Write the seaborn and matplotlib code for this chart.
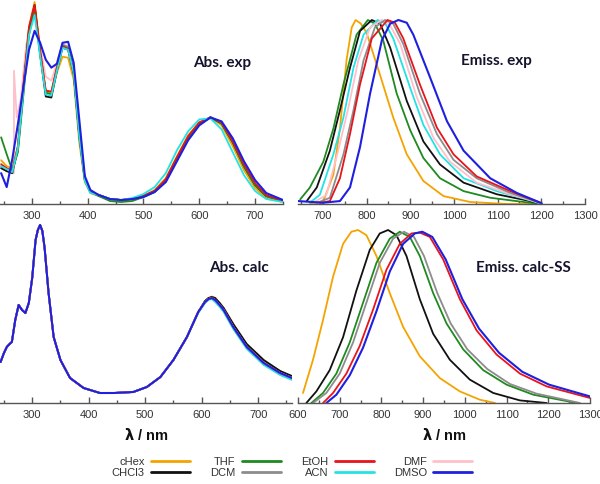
import matplotlib
matplotlib.use("Agg")
import matplotlib.pyplot as plt
from matplotlib.ticker import MultipleLocator
import seaborn as sns

# solvents and colours (legend order, column by column)
solvents = ["cHex", "CHCl3", "THF", "DCM", "EtOH", "ACN", "DMF", "DMSO"]
colors = {
    "cHex": "#f5a300", "CHCl3": "#111111", "THF": "#1f8a1f", "DCM": "#8c8c8c",
    "EtOH": "#e8141c", "ACN": "#22e3e3", "DMF": "#ffc0cc", "DMSO": "#1f1fe0",
}

# ---- Abs. exp (wavelength in nm, absorbance in arbitrary units) ----
abs_exp_nm = [245, 255, 265, 275, 285, 295, 305, 315, 325, 335, 345, 355, 365, 375, 385,
              395, 405, 420, 440, 460, 480, 500, 520, 540, 560, 580, 600, 620, 640, 660,
              680, 700, 720, 750]
abs_exp_chex = [44, 38, 36, 58, 118, 178, 203, 155, 112, 111, 132, 148, 147, 125, 62,
                22, 11, 8, 5, 4, 5, 8, 14, 26, 48, 69, 82, 87, 79, 58, 34, 16, 6, 2]
abs_exp_chcl3 = [36, 33, 31, 55, 115, 175, 200, 150, 108, 107, 134, 157, 155, 131, 68,
                 24, 12, 9, 5, 4, 5, 8, 13, 24, 46, 67, 81, 87, 81, 62, 38, 19, 8, 3]
abs_exp_thf = [67, 50, 34, 52, 110, 170, 196, 150, 112, 110, 136, 159, 156, 132, 70,
               25, 12, 8, 3, 2, 3, 7, 12, 23, 45, 66, 80, 87, 81, 62, 38, 19, 8, 3]
abs_exp_dcm = [38, 35, 33, 57, 117, 175, 198, 152, 113, 112, 138, 160, 158, 134, 70,
               25, 12, 9, 5, 4, 5, 8, 13, 24, 46, 67, 81, 87, 81, 62, 38, 19, 8, 3]
abs_exp_etoh = [40, 36, 33, 58, 120, 178, 200, 154, 114, 113, 137, 158, 156, 133, 70,
                25, 12, 9, 5, 4, 5, 8, 13, 25, 47, 68, 82, 87, 82, 63, 40, 21, 9, 3]
abs_exp_acn = [38, 35, 32, 56, 114, 170, 190, 148, 110, 109, 134, 157, 155, 132, 68,
               23, 11, 9, 5, 4, 6, 10, 17, 31, 54, 73, 85, 86, 75, 52, 29, 13, 5, 2]
abs_exp_dmso = [31, 17, 45, 80, 118, 155, 174, 162, 145, 137, 141, 162, 163, 142, 85,
                28, 14, 9, 5, 4, 5, 7, 12, 22, 43, 64, 79, 87, 83, 66, 43, 24, 11, 4]
# DMF has a narrow spike near 268 nm, so it gets its own wavelength list
abs_exp_dmf_nm = [245, 255, 265, 268, 268, 273, 280, 290, 300, 305, 315, 325, 335, 345,
                  355, 365, 375, 385, 395, 405, 420, 440, 460, 480, 500, 520, 540, 560,
                  580, 600, 620, 640, 660, 680, 700, 720, 750]
abs_exp_dmf = [36, 33, 31, 31, 134, 87, 105, 160, 192, 196, 158, 128, 124, 142,
               161, 158, 134, 70, 25, 12, 9, 5, 4, 5, 8, 13, 24, 46,
               67, 81, 87, 81, 62, 38, 19, 8, 3]

# ---- Emiss. exp (normalised intensity, %) ----
em_exp_chex_nm = [670, 701, 724, 739, 754, 766, 775, 787, 800, 831, 861, 892, 930, 976, 1037, 1121, 1200]
em_exp_chex = [0, 1.5, 16, 41, 78, 96, 100, 98, 93, 70, 47, 27, 12.5, 4.3, 1.1, 0, 0]
em_exp_thf_nm = [648, 670, 701, 724, 747, 777, 803, 819, 838, 869, 900, 930, 968, 1022, 1083, 1159, 1201]
em_exp_thf = [2.5, 8.9, 23, 41, 65, 92, 100, 98, 89, 60, 40, 25, 14, 7, 3.4, 1.1, 0]
em_exp_chcl3_nm = [663, 686, 716, 739, 762, 785, 812, 831, 854, 892, 930, 968, 1022, 1098, 1174, 1201]
em_exp_chcl3 = [1.6, 9, 29, 51, 74, 94, 100, 98, 85, 56, 34, 21.5, 11.6, 5.3, 1.6, 0]
em_exp_acn_nm = [670, 693, 724, 747, 770, 793, 825, 842, 861, 900, 930, 968, 1022, 1098, 1174, 1201]
em_exp_acn = [0.7, 5, 27, 47, 74, 92, 100, 98.5, 90, 63, 43, 27, 14, 7, 2, 0]
em_exp_dmf_nm = [678, 708, 735, 758, 781, 808, 835, 854, 877, 915, 953, 991, 1052, 1129, 1190, 1201]
em_exp_dmf = [0.7, 5, 29, 52, 78, 96, 100, 97, 87, 58, 36, 23, 11.6, 5.3, 1.1, 0]
em_exp_dcm_nm = [686, 716, 747, 770, 793, 819, 842, 861, 884, 922, 961, 999, 1052, 1129, 1197]
em_exp_dcm = [0.5, 3.4, 27, 51, 78, 96, 100, 98, 87, 60, 38, 24, 14, 6, 0.7]
em_exp_etoh_nm = [693, 716, 739, 762, 785, 812, 848, 865, 884, 922, 961, 999, 1052, 1129, 1197]
em_exp_etoh = [0.5, 1.6, 14, 38, 65, 90, 100, 98.5, 90, 65, 41.5, 27, 15, 7, 0.7]
em_exp_dmso_nm = [643, 701, 739, 762, 785, 808, 835, 854, 873, 892, 907, 945, 984, 1022, 1083, 1144, 1201]
em_exp_dmso = [1.6, 0.7, 1.6, 9, 31, 60, 89, 98, 100, 98.5, 92, 69, 45, 29, 14, 6, 0.4]

# ---- Abs. calc (UV part is the same for every solvent) ----
abs_calc_uv_nm = [244, 250, 255, 260, 264, 270, 276, 282, 288, 294, 300, 306, 310, 314,
                  318, 322, 329, 338, 350, 367, 391, 420, 444, 479, 503, 527]
abs_calc_uv = [41, 50, 56, 59, 61, 83, 98, 93, 90, 100, 125, 163, 173, 178,
               172, 155, 110, 66, 43, 25, 15, 10, 10, 11, 16, 26]
abs_calc_vis_nm = [550, 574, 594, 606, 612, 618, 624, 632, 639, 656, 680, 710, 739, 760]
abs_calc_vis_chex = [43, 66, 91, 102, 105, 106.5, 105, 100, 95, 79, 58, 42, 32, 26]
abs_calc_vis_chcl3 = [43, 66, 91, 102, 105, 106, 105, 100, 95, 79, 59, 43, 32, 27]
abs_calc_vis_acn = [43, 66, 90, 100, 103, 104, 101, 96, 91, 74, 54, 38, 28, 23]
abs_calc_vis_mid = [43, 66, 91, 101, 104, 105, 103, 98, 93, 76, 56, 40, 30, 25]

# ---- Emiss. calc-SS (normalised intensity, %) ----
em_calc_chex_nm = [612, 636, 660, 684, 708, 728, 744, 764, 788, 820, 852, 892, 940, 988, 1036, 1072]
em_calc_chex = [5.8, 25, 48, 73, 92, 99, 100, 97, 85, 63.5, 44, 27, 14.4, 6.7, 1.9, 0]
em_calc_chcl3_nm = [620, 644, 676, 708, 740, 772, 796, 816, 836, 860, 892, 924, 964, 1012, 1068, 1132, 1196]
em_calc_chcl3 = [0, 6.7, 19, 38, 65, 88.5, 98, 100, 97, 85, 60, 40, 25, 13.5, 5.8, 1.5, 0]
em_calc_thf_nm = [632, 660, 692, 724, 756, 788, 820, 844, 868, 892, 924, 956, 996, 1044, 1100, 1164, 1268]
em_calc_thf = [0, 5.8, 17, 35, 58, 81, 95, 99, 96, 85, 63.5, 46, 31, 19, 10.6, 4.8, 0]
em_calc_dcm_nm = [636, 668, 700, 732, 764, 796, 828, 854, 878, 902, 934, 966, 1006, 1054, 1108, 1172, 1276]
em_calc_dcm = [0, 5.8, 17, 35, 58, 81, 95, 99, 96, 85, 63.5, 46, 31, 19.6, 11, 5.4, 0]
em_calc_etoh_nm = [660, 684, 716, 748, 780, 812, 844, 872, 892, 916, 948, 988, 1028, 1076, 1132, 1196, 1300]
em_calc_etoh = [0, 5.8, 17, 33, 54, 77, 92, 98, 98.5, 96, 83, 60, 42, 28, 17, 9.6, 2.9]
em_calc_dmso_nm = [668, 692, 724, 756, 788, 820, 852, 880, 898, 922, 954, 994, 1034, 1082, 1138, 1202, 1300]
em_calc_dmso = [0, 4.8, 16, 32, 53, 76, 92, 98, 99, 96, 83, 60, 43, 29, 18, 10.6, 3.8]

sns.set_theme(style="white")
plt.rcParams["font.family"] = ["Liberation Sans", "DejaVu Sans"]

W, H = 600, 484
fig = plt.figure(figsize=(W / 100, H / 100), dpi=100)


def add_axes(x0, x1, ytop, ybot):
    return fig.add_axes([x0 / W, 1 - ybot / H, (x1 - x0) / W, (ybot - ytop) / H])


def style_axes(ax, xlim, ylim, title, tx, ty, xlabel=False):
    ax.set_xlim(*xlim)
    ax.set_ylim(*ylim)
    for side in ["left", "right", "top"]:
        ax.spines[side].set_visible(False)
    ax.spines["bottom"].set_color("#555555")
    ax.spines["bottom"].set_linewidth(1.0)
    ax.set_yticks([])
    ax.set_ylabel("")
    ax.xaxis.set_major_locator(MultipleLocator(100))
    ax.xaxis.set_minor_locator(MultipleLocator(50))
    ax.tick_params(axis="x", which="major", direction="in", length=4, width=1,
                   color="#555555", labelsize=8, labelcolor="#333333", pad=5, bottom=True)
    ax.tick_params(axis="x", which="minor", direction="in", length=2, width=1,
                   color="#555555", bottom=True)
    ax.patch.set_alpha(0)
    ax.text(tx, ty, title, transform=ax.transAxes, ha="center", va="center",
            fontsize=11, fontweight="bold", color="#14142e", family=["Lato", "DejaVu Sans"])
    if xlabel:
        ax.set_xlabel(r"$\mathbf{\lambda}$ / nm", fontsize=10.5, fontweight="bold",
                      color="#111111", labelpad=5)
    else:
        ax.set_xlabel("")
    if ax.get_legend() is not None:
        ax.get_legend().remove()


def draw(ax, x, y, name, lw=1.3):
    sns.lineplot(x=x, y=y, ax=ax, color=colors[name], lw=lw, label=name,
                 estimator=None, sort=False)


# top left: Abs. exp
ax1 = add_axes(0, 283, 0, 204)
draw(ax1, abs_exp_dmf_nm, abs_exp_dmf, "DMF")
draw(ax1, abs_exp_nm, abs_exp_dcm, "DCM")
draw(ax1, abs_exp_nm, abs_exp_chex, "cHex")
draw(ax1, abs_exp_nm, abs_exp_chcl3, "CHCl3")
draw(ax1, abs_exp_nm, abs_exp_thf, "THF")
draw(ax1, abs_exp_nm, abs_exp_etoh, "EtOH")
draw(ax1, abs_exp_nm, abs_exp_acn, "ACN")
draw(ax1, abs_exp_nm, abs_exp_dmso, "DMSO", lw=1.5)
handles, labels = ax1.get_legend_handles_labels()
style_axes(ax1, (243, 750), (0, 205), "Abs. exp", 222 / 283, 1 - 63 / 204)

# top right: Emiss. exp
ax2 = add_axes(298, 585, 0, 204)
draw(ax2, em_exp_chex_nm, em_exp_chex, "cHex")
draw(ax2, em_exp_thf_nm, em_exp_thf, "THF")
draw(ax2, em_exp_chcl3_nm, em_exp_chcl3, "CHCl3")
draw(ax2, em_exp_acn_nm, em_exp_acn, "ACN")
draw(ax2, em_exp_dmf_nm, em_exp_dmf, "DMF")
draw(ax2, em_exp_dcm_nm, em_exp_dcm, "DCM")
draw(ax2, em_exp_etoh_nm, em_exp_etoh, "EtOH")
draw(ax2, em_exp_dmso_nm, em_exp_dmso, "DMSO", lw=1.5)
style_axes(ax2, (643, 1300), (0, 100 * 204 / 184), "Emiss. exp", (496 - 298) / 287, 1 - 61 / 204)

# bottom left: Abs. calc
ax3 = add_axes(0, 292, 213, 403)
vis_by_solvent = [("cHex", abs_calc_vis_chex), ("CHCl3", abs_calc_vis_chcl3),
                  ("ACN", abs_calc_vis_acn), ("THF", abs_calc_vis_mid),
                  ("DCM", abs_calc_vis_mid), ("EtOH", abs_calc_vis_mid),
                  ("DMF", abs_calc_vis_mid), ("DMSO", abs_calc_vis_mid)]
for name, vis in vis_by_solvent:
    draw(ax3, abs_calc_uv_nm + abs_calc_vis_nm, abs_calc_uv + vis, name,
         lw=1.5 if name == "DMSO" else 1.3)
style_axes(ax3, (243, 760), (0, 190), "Abs. calc", (239) / 292, 1 - (268 - 213) / 190, xlabel=True)

# bottom right: Emiss. calc-SS
ax4 = add_axes(298, 590, 213, 403)
draw(ax4, em_calc_chex_nm, em_calc_chex, "cHex")
draw(ax4, em_calc_chcl3_nm, em_calc_chcl3, "CHCl3")
draw(ax4, em_calc_thf_nm, em_calc_thf, "THF")
draw(ax4, em_calc_dcm_nm, em_calc_dcm, "DCM")
draw(ax4, em_calc_etoh_nm, em_calc_etoh, "EtOH")
draw(ax4, em_calc_dmso_nm, em_calc_dmso, "DMSO", lw=1.5)
style_axes(ax4, (600, 1300), (0, 100 * 190 / 173), "Emiss. calc-SS",
           (523 - 298) / 292, 1 - (268 - 213) / 190, xlabel=True)

# shared legend under the panels
by_label = dict(zip(labels, handles))
leg = fig.legend([by_label[s] for s in solvents], solvents, ncol=4, frameon=False,
                 loc="upper center", bbox_to_anchor=(292 / W, 1 - 457 / H),
                 markerfirst=False, fontsize=8, handlelength=3.5, handletextpad=0.6,
                 columnspacing=1.8, labelspacing=0.1, borderpad=0, borderaxespad=0)
for t in leg.get_texts():
    t.set_color("#333333")
for h in leg.get_lines():
    h.set_linewidth(2)

fig.savefig("out.png", dpi=100)
